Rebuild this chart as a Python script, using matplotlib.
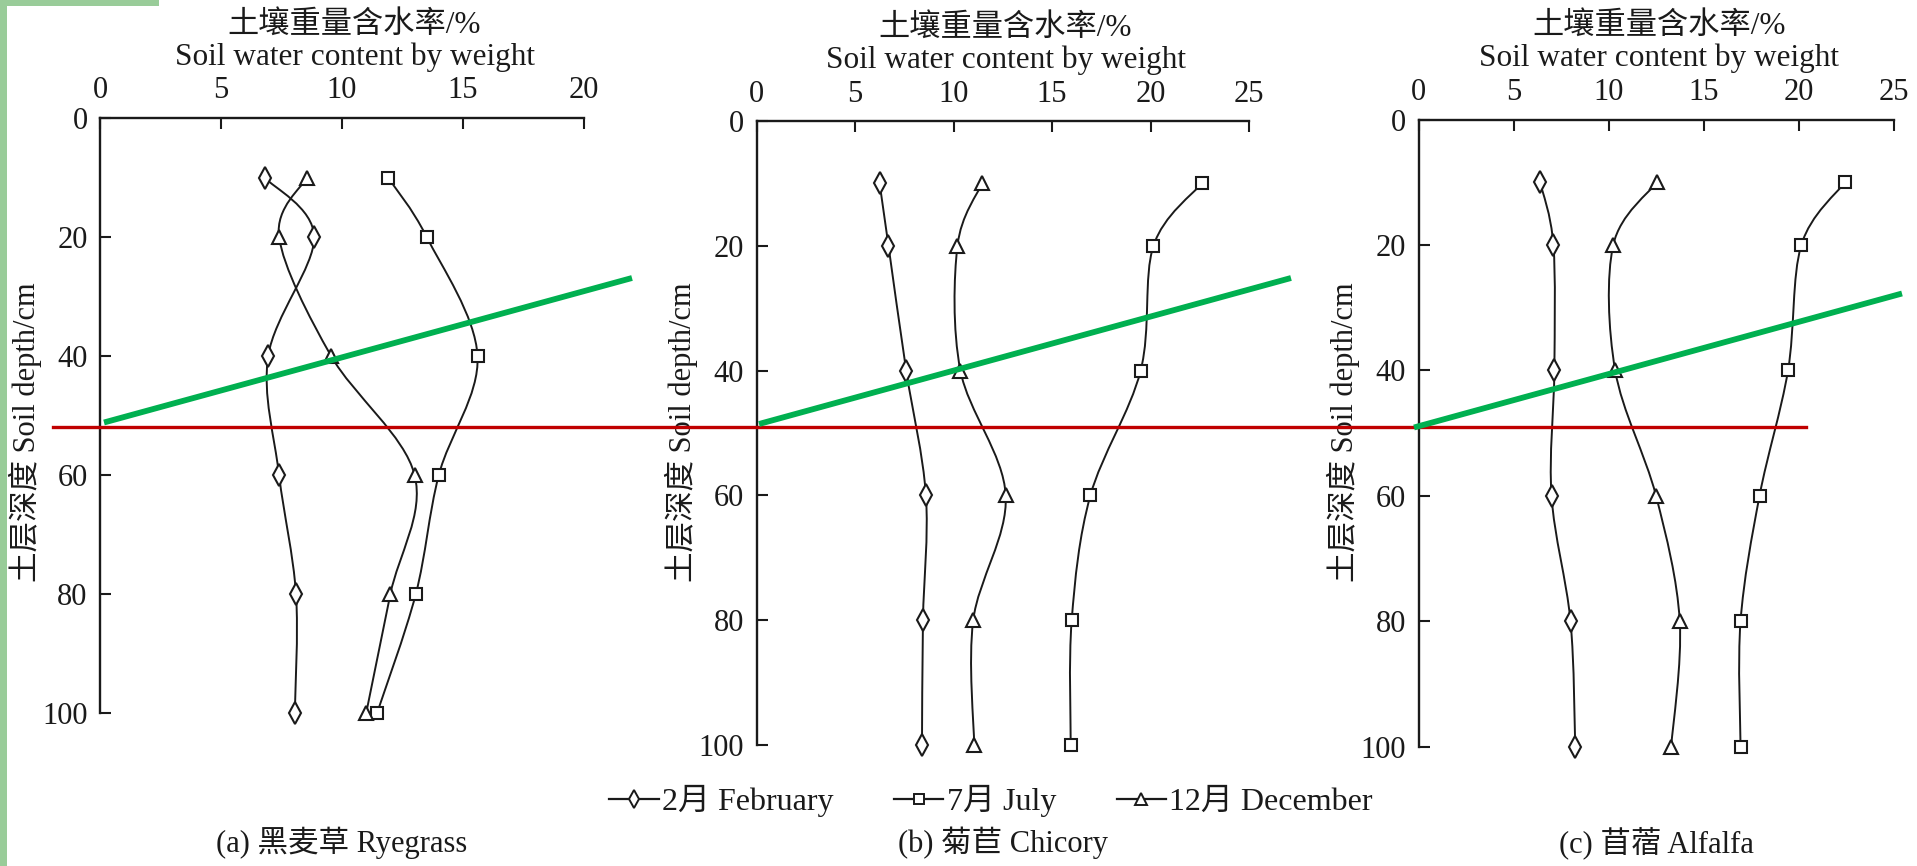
import numpy as np
import matplotlib
matplotlib.use("Agg")
import matplotlib.pyplot as plt
from matplotlib.path import Path
from matplotlib.patches import PathPatch, Rectangle
from matplotlib.lines import Line2D

plt.rcParams['font.family'] = ['Liberation Serif', 'Noto Sans CJK SC']
plt.rcParams['text.color'] = '#1a1a1a'

# soil depth (cm) and gravimetric water content (%)
depths = [10, 20, 40, 60, 80, 100]

ryegrass_feb = [6.8, 8.85, 6.95, 7.4, 8.1, 8.05]
ryegrass_jul = [11.9, 13.5, 15.6, 14.0, 13.05, 11.45]
ryegrass_dec = [8.55, 7.4, 9.55, 13.0, 12.0, 11.0]

chicory_feb = [6.25, 6.7, 7.6, 8.6, 8.45, 8.4]
chicory_jul = [22.6, 20.15, 19.5, 16.95, 16.0, 15.95]
chicory_dec = [11.45, 10.2, 10.35, 12.65, 11.0, 11.05]

alfalfa_feb = [6.4, 7.1, 7.15, 7.0, 8.0, 8.25]
alfalfa_jul = [22.45, 20.15, 19.45, 17.95, 16.95, 16.95]
alfalfa_dec = [12.55, 10.25, 10.35, 12.5, 13.75, 13.3]

months = ['2月 February', '7月 July', '12月 December']
panel_titles = ['(a) 黑麦草 Ryegrass', '(b) 菊苣 Chicory', '(c) 苜蓿 Alfalfa']
x_max = [20, 25, 25]

W, H = 1917, 866
fig = plt.figure(figsize=(W / 100, H / 100), dpi=100)

INK = '#1a1a1a'
markers = ['d', 's', '^']
msizes = [11, 9, 10]


def smooth_path(xs, ys):
    # cardinal spline through the points, as cubic bezier segments
    pts = np.column_stack([xs, ys]).astype(float)
    n = len(pts)
    verts = [pts[0]]
    codes = [Path.MOVETO]
    for i in range(n - 1):
        p0 = pts[max(i - 1, 0)]
        p1 = pts[i]
        p2 = pts[i + 1]
        p3 = pts[min(i + 2, n - 1)]
        verts += [p1 + (p2 - p0) / 6, p2 - (p3 - p1) / 6, p2]
        codes += [Path.CURVE4] * 3
    return Path(verts, codes)


def px_axes(l, r, t, b):
    return fig.add_axes([l / W, 1 - b / H, (r - l) / W, (b - t) / H])


boxes = [(100, 584, 118, 713), (756.5, 1249, 121, 745), (1418.5, 1893.5, 119.5, 746.5)]
title_shift = [9, 2, 2]  # points
series = [
    (ryegrass_feb, ryegrass_jul, ryegrass_dec),
    (chicory_feb, chicory_jul, chicory_dec),
    (alfalfa_feb, alfalfa_jul, alfalfa_dec),
]

for k, (box, data) in enumerate(zip(boxes, series)):
    ax = px_axes(*box)
    for vals, m, ms in zip(data, markers, msizes):
        ax.add_patch(PathPatch(smooth_path(vals, depths), fill=False, ec=INK, lw=1.4))
        ax.plot(vals, depths, ls='none', marker=m, ms=ms, mfc='white', mec=INK, mew=1.5,
                zorder=3, clip_on=False)
    ax.set_xlim(0, x_max[k])
    ax.set_ylim(100, 0)
    ax.set_xticks(range(0, x_max[k] + 1, 5))
    ax.set_yticks(range(0, 101, 20))
    ax.xaxis.tick_top()
    ax.tick_params(direction='in', length=8, width=1.5, labelsize=22, pad=9, colors=INK)
    for s in ['right', 'bottom']:
        ax.spines[s].set_visible(False)
    for s in ['left', 'top']:
        ax.spines[s].set_linewidth(1.7)
        ax.spines[s].set_color(INK)
    ax.patch.set_alpha(0)
    dx = title_shift[k]
    ax.annotate('Soil water content by weight', xy=(0.5, 1), xycoords='axes fraction',
                xytext=(dx, 44), textcoords='offset points', ha='center', va='center', fontsize=22.5)
    ax.annotate('土壤重量含水率/%', xy=(0.5, 1), xycoords='axes fraction',
                xytext=(dx, 67), textcoords='offset points', ha='center', va='center', fontsize=22.5)
    ax.annotate('土层深度 Soil depth/cm', xy=(0, 1 - (432 - box[2]) / (box[3] - box[2])),
                xycoords='axes fraction', xytext=(-54, 0), textcoords='offset points',
                ha='center', va='center', rotation=90, fontsize=22)
    fig.text(((box[0] + box[1]) / 2) / W, 1 - 843 / H, panel_titles[k],
             ha='center', va='center', fontsize=22)

handles = [Line2D([], [], color=INK, lw=1.6, marker=m, ms=ms * 0.8, mfc='white', mec=INK, mew=1.4)
           for m, ms in zip(markers, msizes)]
fig.legend(handles, months, loc='center', bbox_to_anchor=(991 / W, 1 - 801 / H), ncol=3,
           frameon=False, fontsize=23, handlelength=1.55, handletextpad=0.1, columnspacing=1.9,
           numpoints=1)

# highlight strokes drawn over the figure
red_line = [(53, 427.5), (1806, 427.5)]
green_lines = [
    [(104, 422.5), (632, 278)],
    [(759, 424), (1291, 278)],
    [(1414, 427.5), (1902, 293.5)],
]
fig.add_artist(Line2D([p[0] / W for p in red_line], [1 - p[1] / H for p in red_line],
                      color='#C00000', lw=2.4))
for seg in green_lines:
    fig.add_artist(Line2D([p[0] / W for p in seg], [1 - p[1] / H for p in seg],
                          color='#00B050', lw=4.2, solid_capstyle='butt'))

# light green frame corner
fig.add_artist(Rectangle((0, 0), 6.7 / W, 1, transform=fig.transFigure, color='#99CC99', lw=0))
fig.add_artist(Rectangle((0, 1 - 5.7 / H), 159 / W, 5.7 / H, transform=fig.transFigure,
                         color='#99CC99', lw=0))

fig.savefig('out.png', dpi=100)
